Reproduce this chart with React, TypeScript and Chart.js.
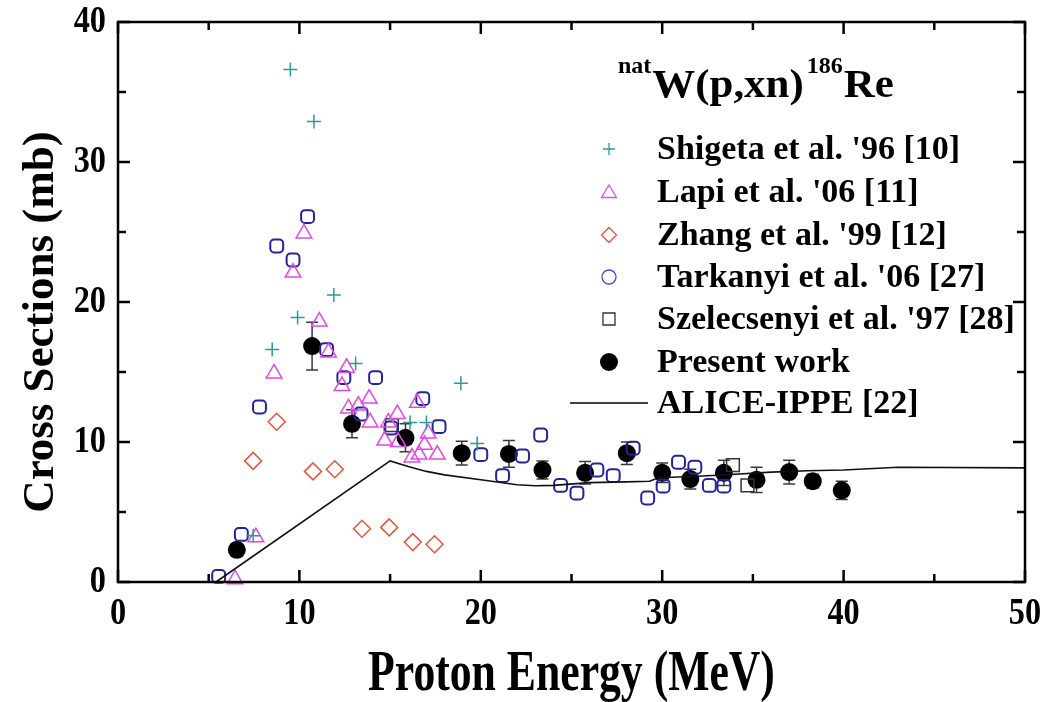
import React, { useEffect, useRef } from "react";
import { Chart, registerables } from "chart.js";

Chart.register(...registerables);

// ---------- data ----------
const shigetaX = [9.5, 10.8, 11.9, 8.5, 9.9, 13.1, 18.9, 7.45, 16.1, 17.0, 19.8];
const shigetaY = [36.6, 32.9, 20.5, 16.6, 18.9, 15.6, 14.2, 3.3, 11.4, 11.4, 9.9];

const lapiX = [6.45, 7.6, 8.6, 9.65, 10.25, 11.1, 11.6, 12.6, 12.35, 13.85, 12.7, 13.25, 13.9, 14.9, 15.4, 14.7, 15.45, 16.5, 17.1, 16.9, 16.2, 16.6, 17.6];
const lapiY = [0.2, 3.2, 14.9, 22.1, 24.9, 18.6, 16.4, 15.3, 14.0, 13.1, 12.4, 12.6, 11.4, 11.4, 12.0, 10.1, 10.0, 12.8, 10.6, 9.8, 8.9, 9.1, 9.1];

const zhangX = [7.45, 8.75, 10.75, 11.95, 13.45, 14.95, 16.25, 17.45];
const zhangY = [8.65, 11.45, 7.9, 8.05, 3.8, 3.9, 2.85, 2.7];

const tarkanyiX = [5.55, 6.8, 7.8, 8.75, 9.65, 10.45, 11.5, 12.45, 14.2, 13.4, 15.05, 16.8, 17.7, 20.0, 21.2, 22.3, 23.3, 24.4, 25.3, 26.4, 27.3, 28.4, 29.2, 30.05, 30.9, 31.8, 32.6, 33.4];
const tarkanyiY = [0.4, 3.4, 12.5, 24.0, 23.0, 26.1, 16.6, 14.6, 14.6, 12.0, 11.0, 13.1, 11.1, 9.1, 7.6, 9.0, 10.5, 6.9, 6.35, 8.0, 7.6, 9.55, 6.0, 6.85, 8.55, 8.2, 6.9, 6.85];

const szelecsenyiX = [15.1, 33.9, 34.7];
const szelecsenyiY = [11.2, 8.35, 6.9];

const presentX = [6.55, 10.7, 12.9, 15.85, 18.95, 21.55, 23.4, 25.75, 28.05, 30.0, 31.55, 33.4, 35.2, 37.0, 38.3, 39.9];
const presentY = [2.3, 16.85, 11.3, 10.3, 9.2, 9.15, 8.0, 7.8, 9.2, 7.8, 7.35, 7.8, 7.3, 7.85, 7.2, 6.55];
const presentErr = [0.3, 1.7, 1.0, 1.0, 0.85, 0.95, 0.65, 0.8, 0.8, 0.7, 0.7, 0.9, 0.9, 0.85, 0.5, 0.65];

const aliceX = [5.4, 15, 16, 17, 18, 20, 22, 23, 24, 26, 28, 29.3, 29.8, 32, 34, 36, 38, 40, 43, 50];
const aliceY = [0, 8.65, 8.25, 7.9, 7.65, 7.3, 6.95, 6.88, 6.9, 7.1, 7.15, 7.2, 7.45, 7.55, 7.7, 7.85, 7.95, 8.0, 8.2, 8.15];

const xMajorTicks = [0, 10, 20, 30, 40, 50];
const xMinorTicks = [5, 15, 25, 35, 45];
const yMajorTicks = [0, 10, 20, 30, 40];
const yMinorTicks = [5, 15, 25, 35];

const legendLabels = [
  "Shigeta et al. '96 [10]",
  "Lapi et al. '06 [11]",
  "Zhang et al. '99 [12]",
  "Tarkanyi et al. '06 [27]",
  "Szelecsenyi et al. '97 [28]",
  "Present work",
  "ALICE-IPPE [22]",
];

const xTitle = "Proton Energy (MeV)";
const yTitle = "Cross Sections (mb)";

// ---------- styles ----------
const TEAL = "#2b9a9a";
const MAGENTA = "#e448e4";
const RED = "#e6553f";
const NAVY = "#23239c";
const BLUE_LEG = "#4a4ad8";
const GREY = "#333333";
const FONT = '"Liberation Serif", "Times New Roman", serif';

const pts = (xs: number[], ys: number[]) => xs.map((x, i) => ({ x, y: ys[i] }));

function drawText(
  ctx: CanvasRenderingContext2D,
  text: string,
  x: number,
  y: number,
  size: number,
  sx: number,
  align: CanvasTextAlign,
  baseline: CanvasTextBaseline,
  rot = 0
) {
  ctx.save();
  ctx.translate(x, y);
  if (rot) ctx.rotate(rot);
  ctx.scale(sx, 1);
  ctx.font = `bold ${size}px ${FONT}`;
  ctx.textAlign = align;
  ctx.textBaseline = baseline;
  ctx.fillStyle = "#000";
  ctx.fillText(text, 0, 0);
  ctx.restore();
}

function textWidth(ctx: CanvasRenderingContext2D, text: string, size: number, sx: number) {
  ctx.save();
  ctx.font = `bold ${size}px ${FONT}`;
  const w = ctx.measureText(text).width * sx;
  ctx.restore();
  return w;
}

const errorBarPlugin = {
  id: "errorBars",
  beforeDatasetsDraw(chart: any) {
    const idx = chart.data.datasets.findIndex((d: any) => d.label === "Present work");
    if (idx < 0) return;
    const meta = chart.getDatasetMeta(idx);
    const ys = chart.scales.y;
    const ctx = chart.ctx as CanvasRenderingContext2D;
    ctx.save();
    ctx.strokeStyle = "#3a3a3a";
    ctx.lineWidth = 1.5;
    meta.data.forEach((el: any, i: number) => {
      const x = el.x;
      const top = ys.getPixelForValue(presentY[i] + presentErr[i]);
      const bot = ys.getPixelForValue(presentY[i] - presentErr[i]);
      ctx.beginPath();
      ctx.moveTo(x, top);
      ctx.lineTo(x, bot);
      ctx.moveTo(x - 6, top);
      ctx.lineTo(x + 6, top);
      ctx.moveTo(x - 6, bot);
      ctx.lineTo(x + 6, bot);
      ctx.stroke();
    });
    ctx.restore();
  },
};

const framePlugin = {
  id: "frame",
  afterDatasetsDraw(chart: any) {
    const { ctx, chartArea } = chart;
    const { left, right, top, bottom } = chartArea;
    const xs = chart.scales.x;
    const ys = chart.scales.y;
    ctx.save();
    ctx.strokeStyle = "#000";
    ctx.lineWidth = 2.5;
    ctx.strokeRect(left, top, right - left, bottom - top);
    ctx.lineWidth = 2.5;
    const major = 12;
    const minor = 8;
    ctx.beginPath();
    const xt = (v: number, len: number) => {
      const px = xs.getPixelForValue(v);
      ctx.moveTo(px, bottom);
      ctx.lineTo(px, bottom - len);
      ctx.moveTo(px, top);
      ctx.lineTo(px, top + len);
    };
    const yt = (v: number, len: number) => {
      const py = ys.getPixelForValue(v);
      ctx.moveTo(left, py);
      ctx.lineTo(left + len, py);
      ctx.moveTo(right, py);
      ctx.lineTo(right - len, py);
    };
    xMajorTicks.forEach((v) => xt(v, major));
    xMinorTicks.forEach((v) => xt(v, minor));
    yMajorTicks.forEach((v) => yt(v, major));
    yMinorTicks.forEach((v) => yt(v, minor));
    ctx.stroke();
    ctx.restore();
  },
  afterDraw(chart: any) {
    const ctx = chart.ctx as CanvasRenderingContext2D;
    const { chartArea } = chart;
    const xs = chart.scales.x;
    const ys = chart.scales.y;
    // tick labels
    xMajorTicks.forEach((v) => {
      drawText(ctx, String(v), xs.getPixelForValue(v), 614, 38, 0.85, "center", "middle");
    });
    yMajorTicks.forEach((v) => {
      drawText(ctx, String(v), 106, ys.getPixelForValue(v), 38, 0.85, "right", "middle");
    });
    // axis titles
    drawText(ctx, xTitle, (chartArea.left + chartArea.right) / 2, 690, 56, 0.78, "center", "alphabetic");
    drawText(ctx, yTitle, 53, 322, 45, 1.0, "center", "alphabetic", -Math.PI / 2);

    // title: natW(p,xn)186Re
    let x = 618;
    drawText(ctx, "nat", x, 73, 24, 1.0, "left", "alphabetic");
    x += textWidth(ctx, "nat", 24, 1.0) + 1;
    drawText(ctx, "W(p,xn)", x, 97, 39, 1.1, "left", "alphabetic");
    x += textWidth(ctx, "W(p,xn)", 39, 1.1) + 3;
    drawText(ctx, "186", x, 73, 24, 1.0, "left", "alphabetic");
    x += textWidth(ctx, "186", 24, 1.0) + 1;
    drawText(ctx, "Re", x, 97, 39, 1.1, "left", "alphabetic");

    // legend
    const rows = [149, 192, 235, 277, 319, 362, 403];
    const mx = 609;
    ctx.save();
    rows.forEach((ry, i) => {
      ctx.beginPath();
      ctx.lineWidth = 1.3;
      if (i === 0) {
        ctx.strokeStyle = TEAL;
        ctx.moveTo(mx - 6, ry);
        ctx.lineTo(mx + 6, ry);
        ctx.moveTo(mx, ry - 6);
        ctx.lineTo(mx, ry + 6);
        ctx.stroke();
      } else if (i === 1) {
        ctx.strokeStyle = MAGENTA;
        ctx.moveTo(mx, ry - 7);
        ctx.lineTo(mx + 7.5, ry + 5.5);
        ctx.lineTo(mx - 7.5, ry + 5.5);
        ctx.closePath();
        ctx.stroke();
      } else if (i === 2) {
        ctx.strokeStyle = RED;
        ctx.moveTo(mx, ry - 7.5);
        ctx.lineTo(mx + 7.5, ry);
        ctx.lineTo(mx, ry + 7.5);
        ctx.lineTo(mx - 7.5, ry);
        ctx.closePath();
        ctx.stroke();
      } else if (i === 3) {
        ctx.strokeStyle = BLUE_LEG;
        ctx.arc(mx, ry, 7, 0, Math.PI * 2);
        ctx.stroke();
      } else if (i === 4) {
        ctx.strokeStyle = GREY;
        ctx.rect(mx - 6, ry - 6, 12, 12);
        ctx.stroke();
      } else if (i === 5) {
        ctx.fillStyle = "#000";
        ctx.arc(mx, ry, 9, 0, Math.PI * 2);
        ctx.fill();
      } else {
        ctx.strokeStyle = "#000";
        ctx.lineWidth = 1.5;
        ctx.moveTo(570, ry);
        ctx.lineTo(648, ry);
        ctx.stroke();
      }
      drawText(ctx, legendLabels[i], 657, ry + 1, 34, 1.0, "left", "middle");
    });
    ctx.restore();
  },
};

export default function App() {
  const canvasRef = useRef<HTMLCanvasElement | null>(null);

  useEffect(() => {
    if (!canvasRef.current) return;
    const chart = new Chart(canvasRef.current, {
      type: "scatter",
      data: {
        datasets: [
          {
            label: "ALICE-IPPE [22]",
            data: pts(aliceX, aliceY),
            showLine: true,
            pointRadius: 0,
            borderColor: "#111",
            borderWidth: 1.6,
            tension: 0,
            clip: false,
          } as any,
          {
            label: "Shigeta",
            data: pts(shigetaX, shigetaY),
            pointStyle: "cross",
            pointRadius: 7,
            borderColor: TEAL,
            borderWidth: 1.5,
            backgroundColor: "transparent",
            clip: false,
          },
          {
            label: "Lapi",
            data: pts(lapiX, lapiY),
            pointStyle: "triangle",
            pointRadius: 9,
            borderColor: MAGENTA,
            borderWidth: 1.5,
            backgroundColor: "transparent",
            clip: false,
          },
          {
            label: "Zhang",
            data: pts(zhangX, zhangY),
            pointStyle: "rectRot",
            pointRadius: 8.5,
            borderColor: RED,
            borderWidth: 1.5,
            backgroundColor: "transparent",
            clip: false,
          },
          {
            label: "Tarkanyi",
            data: pts(tarkanyiX, tarkanyiY),
            pointStyle: "rectRounded",
            pointRadius: 7.5,
            borderColor: NAVY,
            borderWidth: 2,
            backgroundColor: "transparent",
            clip: false,
          },
          {
            label: "Szelecsenyi",
            data: pts(szelecsenyiX, szelecsenyiY),
            pointStyle: "rect",
            pointRadius: 9,
            borderColor: GREY,
            borderWidth: 1.5,
            backgroundColor: "transparent",
            clip: false,
          },
          {
            label: "Present work",
            data: pts(presentX, presentY),
            pointStyle: "circle",
            pointRadius: 9,
            borderColor: "#000",
            borderWidth: 0,
            backgroundColor: "#000",
            clip: false,
          },
        ],
      },
      options: {
        responsive: false,
        animation: false,
        events: [],
        layout: { padding: { top: 22, right: 22, left: 0, bottom: 0 } },
        plugins: {
          legend: { display: false },
          tooltip: { enabled: false },
          title: { display: false },
        },
        scales: {
          x: {
            type: "linear",
            min: 0,
            max: 50,
            grid: { display: false },
            border: { display: false },
            ticks: { display: false },
            afterFit: (s: any) => {
              s.height = 120;
            },
          },
          y: {
            type: "linear",
            min: 0,
            max: 40,
            grid: { display: false },
            border: { display: false },
            ticks: { display: false },
            afterFit: (s: any) => {
              s.width = 118;
            },
          },
        },
      },
      plugins: [errorBarPlugin, framePlugin],
    });
    return () => chart.destroy();
  }, []);

  return (
    <div style={{ position: "absolute", left: 0, top: 0, width: 1047, height: 702, background: "#fff" }}>
      <canvas ref={canvasRef} width={1047} height={702} style={{ display: "block", width: 1047, height: 702 }} />
    </div>
  );
}
